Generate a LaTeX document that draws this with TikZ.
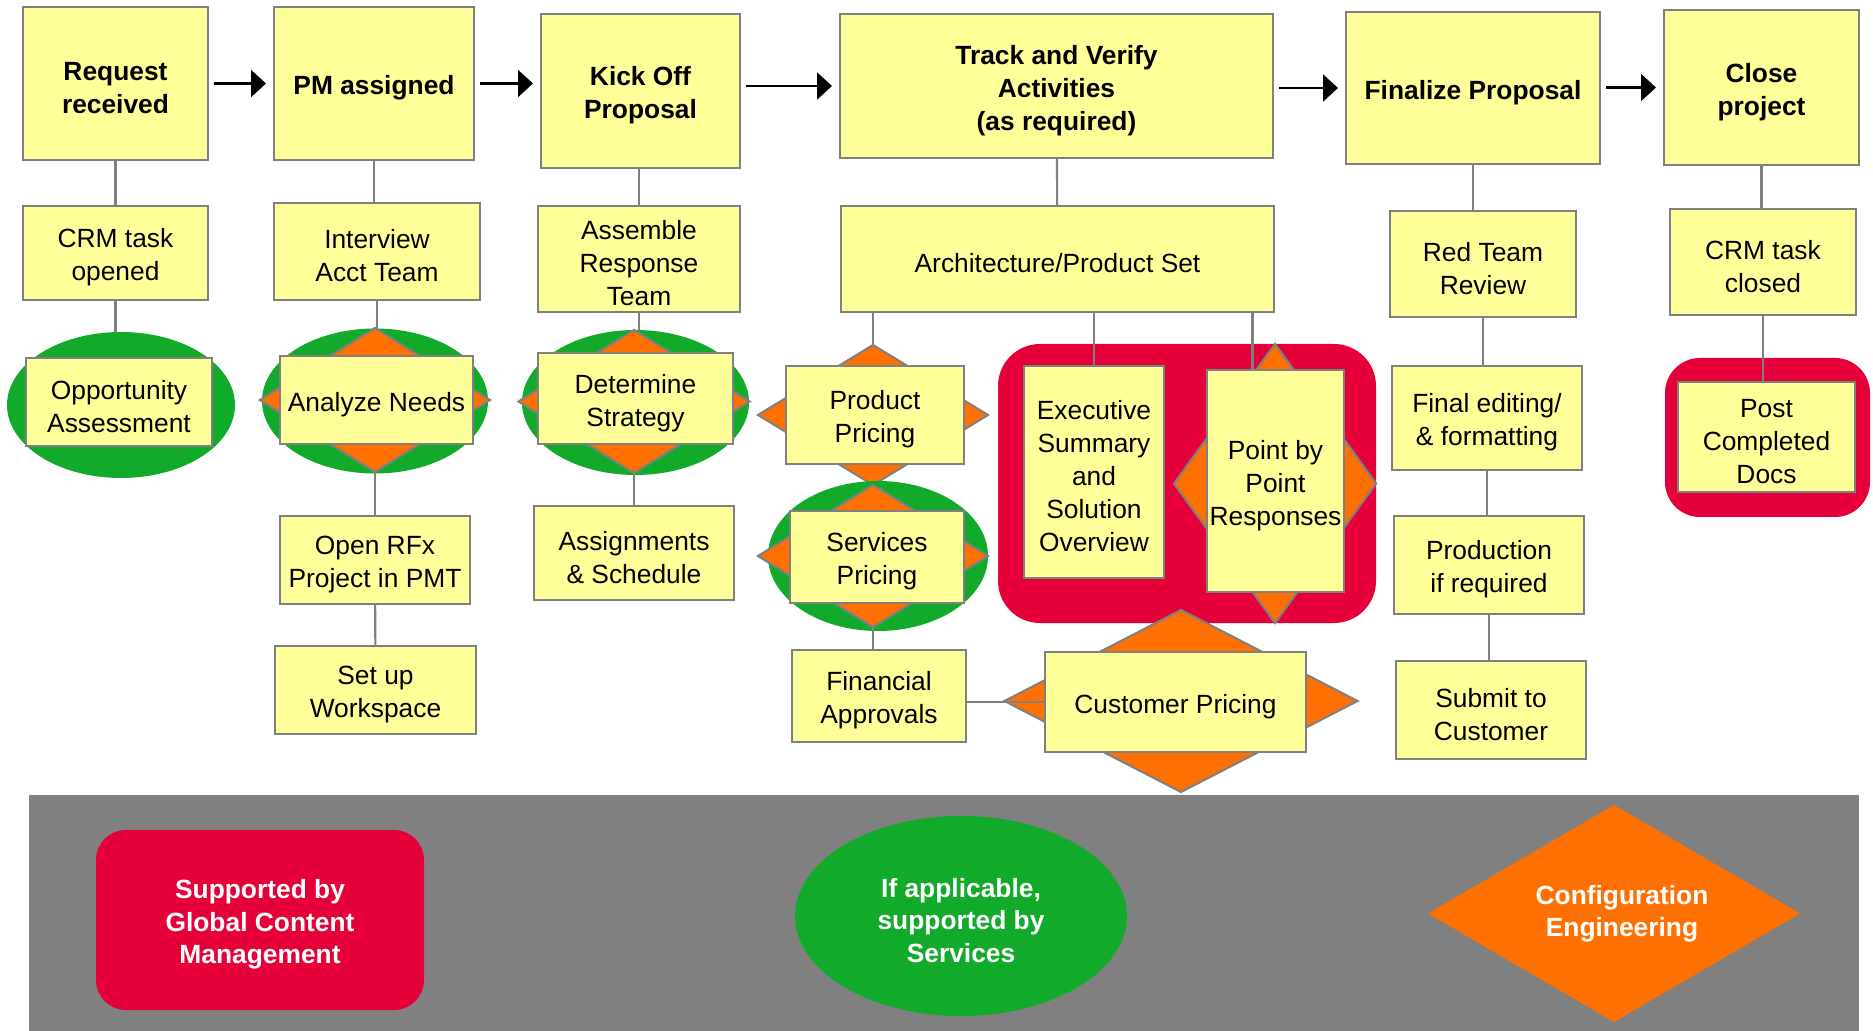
\documentclass[tikz,border=0pt]{standalone}
\usepackage{fontspec}
\setmainfont{Liberation Sans}
\usetikzlibrary{arrows.meta,shapes.geometric}
\definecolor{boxyellow}{RGB}{255,255,153}
\definecolor{edgegray}{RGB}{128,128,128}
\definecolor{svcgreen}{RGB}{18,170,43}
\definecolor{gcmred}{RGB}{230,0,57}
\definecolor{cfgorange}{RGB}{255,112,0}
\newcommand{\pptline}{\rule{0pt}{7.9pt}}
\begin{document}
\begin{tikzpicture}[x=1cm,y=-1cm,
  every node/.style={font=\fontsize{7.5}{9.4}\selectfont, align=center, inner sep=0pt, outer sep=0pt},
  task/.style={draw=edgegray, line width=0.6pt, fill=boxyellow},
  phase/.style={task, font=\fontsize{7.5}{9.4}\selectfont\bfseries},
  svcoval/.style={ellipse, fill=svcgreen},
  cfgdiam/.style={diamond, aspect=1.7, draw=edgegray, line width=0.6pt, fill=cfgorange},
  gcmframe/.style={rectangle, rounded corners=0.42cm, fill=gcmred},
  legend/.style={text=white, font=\fontsize{7.5}{9.2}\selectfont\bfseries},
  link/.style={draw=edgegray, line width=0.6pt},
  flow/.style={line width=0.6pt, -{Triangle[length=0.15cm,width=0.27cm]}, shorten <=0.06cm, shorten >=0.08cm}]
\useasboundingbox (0,0) rectangle (18.73,10.31);
\node[gcmframe, minimum width=3.78cm, minimum height=2.79cm] (gcmmid) at (11.87,4.835) {};
\node[gcmframe, rounded corners=0.35cm, minimum width=2.05cm, minimum height=1.59cm] (gcmend) at (17.675,4.375) {};
\node[svcoval, minimum width=2.28cm, minimum height=1.46cm] (oppoval) at (1.21,4.05) {};
\node[svcoval, minimum width=2.26cm, minimum height=1.45cm] (anoval) at (3.75,4.01) {};
\node[cfgdiam, minimum width=2.30cm, minimum height=1.44cm] (andiam) at (3.75,4.00) {};
\node[svcoval, minimum width=2.27cm, minimum height=1.45cm] (stoval) at (6.355,4.025) {};
\node[cfgdiam, minimum width=2.31cm, minimum height=1.43cm] (stdiam) at (6.34,4.015) {};
\node[cfgdiam, minimum width=2.30cm, minimum height=1.40cm] (pddiam) at (8.73,4.15) {};
\node[svcoval, minimum width=2.20cm, minimum height=1.50cm] (svoval) at (8.78,5.56) {};
\node[cfgdiam, minimum width=2.30cm, minimum height=1.42cm] (svdiam) at (8.73,5.56) {};
\node[cfgdiam, minimum width=2.02cm, minimum height=2.79cm] (ptdiam) at (12.75,4.835) {};
\node[cfgdiam, minimum width=3.53cm, minimum height=1.82cm] (cpdiam) at (11.81,7.01) {};

\node[phase, minimum width=1.85cm, minimum height=1.53cm] (req) at (1.155,0.835) {\pptline Request\\received};
\node[phase, minimum width=2.00cm, minimum height=1.53cm] (pm) at (3.74,0.835) {\pptline PM assigned};
\node[phase, minimum width=1.99cm, minimum height=1.54cm] (kick) at (6.405,0.91) {\pptline Kick Off\\Proposal};
\node[phase, minimum width=4.33cm, minimum height=1.44cm] (track) at (10.565,0.86) {\pptline Track and Verify\\Activities\\(as required)};
\node[phase, minimum width=2.54cm, minimum height=1.52cm] (final) at (14.73,0.88) {\pptline Finalize Proposal};
\node[phase, minimum width=1.95cm, minimum height=1.55cm] (close) at (17.615,0.875) {\pptline Close\\project};

\node[task, minimum width=1.85cm, minimum height=0.94cm] (crmopen) at (1.155,2.53) {\pptline CRM task\\opened};
\node[task, minimum width=2.06cm, minimum height=0.97cm] (interview) at (3.77,2.515) {\pptline Interview\\Acct Team};
\node[task, minimum width=2.02cm, minimum height=1.06cm] (assemble) at (6.39,2.59) {\pptline Assemble\\Response\\Team};
\node[task, minimum width=4.33cm, minimum height=1.06cm] (arch) at (10.575,2.59) {\pptline Architecture/Product Set};
\node[task, minimum width=1.86cm, minimum height=1.06cm] (redteam) at (14.83,2.64) {\pptline Red Team\\Review};
\node[task, minimum width=1.86cm, minimum height=1.06cm] (crmclose) at (17.63,2.62) {\pptline CRM task\\closed};

\node[task, minimum width=1.86cm, minimum height=0.88cm] (opp) at (1.19,4.02) {\pptline Opportunity\\Assessment};
\node[task, minimum width=1.93cm, minimum height=0.88cm] (analyze) at (3.765,4.00) {\pptline Analyze Needs};
\node[task, minimum width=1.95cm, minimum height=0.91cm] (strategy) at (6.355,3.985) {\pptline Determine\\Strategy};
\node[task, minimum width=1.78cm, minimum height=0.98cm] (product) at (8.75,4.15) {\pptline Product\\Pricing};
\node[task, minimum width=1.74cm, minimum height=0.92cm] (services) at (8.77,5.57) {\pptline Services\\Pricing};
\node[task, minimum width=1.40cm, minimum height=2.12cm] (exec) at (10.94,4.72) {\pptline Executive\\Summary\\and\\Solution\\Overview};
\node[task, minimum width=1.37cm, minimum height=2.22cm] (point) at (12.755,4.81) {\pptline Point by\\Point\\Responses};
\node[task, minimum width=1.90cm, minimum height=1.04cm] (finedit) at (14.87,4.18) {\pptline Final editing/\\\& formatting};
\node[task, minimum width=1.77cm, minimum height=1.10cm] (post) at (17.665,4.37) {\pptline Post\\Completed\\Docs};

\node[task, minimum width=1.90cm, minimum height=0.88cm] (openrfx) at (3.75,5.60) {\pptline Open RFx\\Project in PMT};
\node[task, minimum width=2.01cm, minimum height=0.88cm] (setup) at (3.755,6.90) {\pptline Set up\\Workspace};
\node[task, minimum width=2.00cm, minimum height=0.94cm] (assign) at (6.34,5.53) {\pptline Assignments\\\& Schedule};
\node[task, minimum width=1.74cm, minimum height=0.92cm] (financial) at (8.79,6.96) {\pptline Financial\\Approvals};
\node[task, minimum width=2.61cm, minimum height=1.00cm] (custpr) at (11.755,7.02) {\pptline Customer Pricing};
\node[task, minimum width=1.90cm, minimum height=0.98cm] (production) at (14.89,5.65) {\pptline Production\\if required};
\node[task, minimum width=1.90cm, minimum height=0.98cm] (submit) at (14.91,7.10) {\pptline Submit to\\Customer};
\coordinate (ptlink) at ([xshift=-0.23cm]point.north);

\draw[link] (req) -- (crmopen);
\draw[link] (pm.south) -- (pm.south |- interview.north);
\draw[link] (assemble.north |- kick.south) -- (assemble.north);
\draw[link] (track) -- (arch);
\draw[link] (final.south) -- (final.south |- redteam.north);
\draw[link] (close.south) -- (close.south |- crmclose.north);
\draw[link] (crmopen.south) -- (crmopen.south |- oppoval.north);
\draw[link] (interview.south) -- (interview.south |- andiam.north);
\draw[link] (andiam) -- (openrfx);
\draw[link] (openrfx) -- (setup);
\draw[link] (assemble.south) -- (assemble.south |- stdiam.north);
\draw[link] (stdiam.south) -- (stdiam.south |- assign.north);
\draw[link] (pddiam.north |- arch.south) -- (pddiam.north);
\draw[link] (exec.north |- arch.south) -- (exec.north);
\draw[link] (ptlink |- arch.south) -- (ptlink);
\draw[link] (svdiam.south) -- (svdiam.south |- financial.north);
\draw[link] (financial.east |- custpr.west) -- (custpr.west);
\draw[link] (redteam.south) -- (redteam.south |- finedit.north);
\draw[link] (finedit.south) -- (finedit.south |- production.north);
\draw[link] (production.south) -- (production.south |- submit.north);
\draw[link] (crmclose.south) -- (crmclose.south |- post.north);

\draw[flow] (req) -- (pm);
\draw[flow] (pm.east) -- (pm.east -| kick.west);
\draw[flow] (track.west -| kick.east) -- (track.west);
\draw[flow] (final.west -| track.east) -- (final.west);
\draw[flow] (close.west -| final.east) -- (close.west);

\fill[edgegray] (0.29,7.95) rectangle (18.59,10.31);
\node[gcmframe, legend, rounded corners=0.3cm, minimum width=3.28cm, minimum height=1.80cm] (leggcm) at (2.60,9.20) {\pptline Supported by\\Global Content\\Management};
\node[svcoval, legend, minimum width=3.32cm, minimum height=2.00cm] (legsvc) at (9.61,9.16) {\pptline If applicable,\\supported by\\Services};
\node[cfgdiam, legend, draw=none, minimum width=3.72cm, minimum height=2.17cm] (legcfg) at (16.14,9.135) {\hspace*{0.16cm}Configuration\\\hspace*{0.16cm}Engineering};
\end{tikzpicture}
\end{document}
